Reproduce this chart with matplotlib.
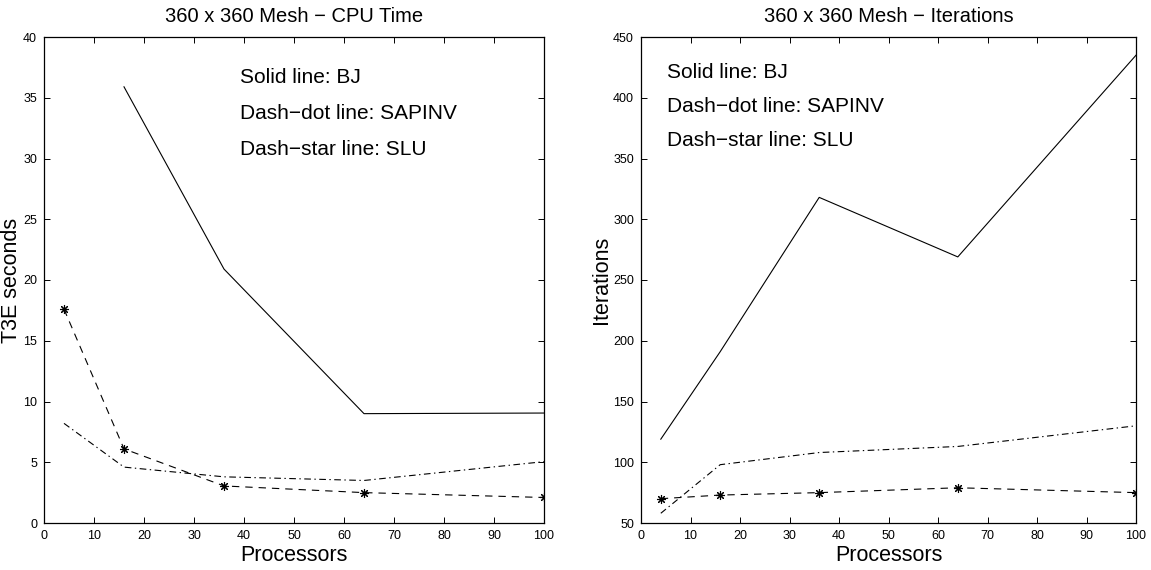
import matplotlib
matplotlib.use("Agg")
import matplotlib.pyplot as plt

plt.rcParams['font.family'] = ['Liberation Sans', 'DejaVu Sans']
plt.rcParams['lines.scale_dashes'] = False

# Processor counts
procs = [4, 16, 36, 64, 100]

# CPU time (T3E seconds); BJ has no value at 4 processors
cpu_bj_procs = [16, 36, 64, 100]
cpu_bj = [35.9, 20.9, 9.0, 9.05]
cpu_sapinv = [8.2, 4.6, 3.8, 3.5, 5.05]
cpu_slu = [17.6, 6.1, 3.05, 2.5, 2.1]

# Iterations
it_bj = [119, 191, 318, 269, 435]
it_sapinv = [58, 98, 108, 113, 130]
it_slu = [70, 73, 75, 79, 75]

notes = ["Solid line: BJ", "Dash\u2212dot line: SAPINV", "Dash\u2212star line: SLU"]

fig = plt.figure(figsize=(11.51, 5.70), dpi=100)
ax1 = fig.add_axes([44 / 1151, 47 / 570, 500 / 1151, 486 / 570])
ax2 = fig.add_axes([641 / 1151, 47 / 570, 495 / 1151, 486 / 570])

lw = 0.8
dash = (0, (5.3, 4.3))
dashdot = (0, (4.8, 2.5, 1, 2.5))
star = (8, 2, 0)


def style_axes(ax):
    ax.tick_params(direction="in", length=4, width=0.7, top=True, right=True,
                   labelsize=9, pad=5)
    for s in ax.spines.values():
        s.set_linewidth(0.9)


# left panel: CPU time
ax1.plot(cpu_bj_procs, cpu_bj, color="black", linewidth=lw)
ax1.plot(procs, cpu_sapinv, color="black", linewidth=lw, linestyle=dashdot)
ax1.plot(procs, cpu_slu, color="black", linewidth=lw, linestyle=dash,
         marker=star, markersize=6.5, markeredgewidth=0.8)
ax1.set_xlim(0, 100)
ax1.set_ylim(0, 40)
ax1.set_xticks(range(0, 101, 10))
ax1.set_yticks(range(0, 41, 5))
ax1.set_title("360 x 360 Mesh \u2212 CPU Time", fontsize=14.5, pad=11)
ax1.set_xlabel("Processors", fontsize=15.5, labelpad=2)
ax1.set_ylabel("T3E seconds", fontsize=15.5, labelpad=0.5)
for i, t in enumerate(notes):
    ax1.text(39.2, 36.2 - 2.97 * i, t, fontsize=15, va="baseline")
style_axes(ax1)

# right panel: iterations
ax2.plot(procs, it_bj, color="black", linewidth=lw)
ax2.plot(procs, it_sapinv, color="black", linewidth=lw, linestyle=dashdot)
ax2.plot(procs, it_slu, color="black", linewidth=lw, linestyle=dash,
         marker=star, markersize=6.5, markeredgewidth=0.8)
ax2.set_xlim(0, 100)
ax2.set_ylim(50, 450)
ax2.set_xticks(range(0, 101, 10))
ax2.set_yticks(range(50, 451, 50))
ax2.set_title("360 x 360 Mesh \u2212 Iterations", fontsize=14.5, pad=11)
ax2.set_xlabel("Processors", fontsize=15.5, labelpad=2)
ax2.set_ylabel("Iterations", fontsize=15.5, labelpad=1)
for i, t in enumerate(notes):
    ax2.text(5.2, 416.5 - 28 * i, t, fontsize=15, va="baseline")
style_axes(ax2)

fig.savefig("out.png", dpi=100)
